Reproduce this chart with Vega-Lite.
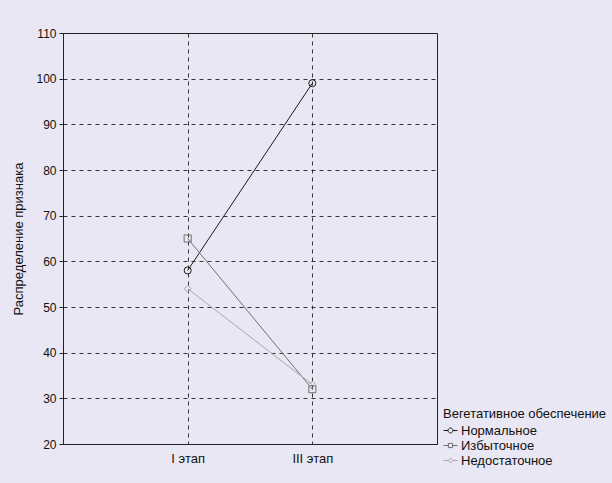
{
  "$schema": "https://vega.github.io/schema/vega-lite/v6.json",
  "width": 374,
  "height": 411,
  "autosize": {"type": "none"},
  "padding": {"left": 63, "top": 33, "right": 175, "bottom": 39},
  "background": "#e9e7f3",
  "config": {
    "font": "Liberation Sans",
    "view": {"stroke": "#222", "strokeWidth": 1},
    "axis": {
      "labelFont": "Liberation Sans",
      "titleFont": "Liberation Sans",
      "labelFontSize": 12,
      "titleFontSize": 13,
      "labelColor": "#111",
      "titleColor": "#111",
      "domainColor": "#222",
      "tickColor": "#222",
      "gridColor": "#222",
      "gridDash": [4, 4],
      "gridOpacity": 0.9,
      "titleFontWeight": "normal"
    },
    "legend": {
      "labelFont": "Liberation Sans",
      "titleFont": "Liberation Sans",
      "labelFontSize": 13,
      "titleFontSize": 13,
      "titleFontWeight": "normal",
      "labelColor": "#111",
      "titleColor": "#111"
    }
  },
  "data": {
    "values": [
      {"stage": "I этап", "group": "Нормальное", "value": 58},
      {"stage": "III этап", "group": "Нормальное", "value": 99},
      {"stage": "I этап", "group": "Избыточное", "value": 65},
      {"stage": "III этап", "group": "Избыточное", "value": 32},
      {"stage": "I этап", "group": "Недостаточное", "value": 54},
      {"stage": "III этап", "group": "Недостаточное", "value": 33}
    ]
  },
  "encoding": {
    "x": {
      "field": "stage",
      "type": "nominal",
      "sort": ["I этап", "III этап"],
      "scale": {"type": "point", "padding": 1},
      "axis": {"title": null, "labelAngle": 0, "grid": true, "ticks": false, "labelPadding": 8, "labelFontSize": 13}
    },
    "y": {
      "field": "value",
      "type": "quantitative",
      "scale": {"domain": [20, 110], "nice": false},
      "axis": {"title": "Распределение признака", "values": [20, 30, 40, 50, 60, 70, 80, 90, 100, 110], "tickSize": 4, "labelPadding": 3, "titlePadding": 10}
    },
    "color": {
      "field": "group",
      "type": "nominal",
      "sort": ["Нормальное", "Избыточное", "Недостаточное"],
      "scale": {"domain": ["Нормальное", "Избыточное", "Недостаточное"], "range": ["#1a1a1a", "#707070", "#a8a8a8"]},
      "legend": {
        "title": "Вегетативное обеспечение",
        "orient": "none",
        "legendX": 380,
        "legendY": 375,
        "symbolSize": 196,
        "symbolStrokeWidth": 1,
        "rowPadding": 0,
        "labelOffset": 3,
        "padding": 0,
        "titlePadding": 2,
        "encode": {
          "symbols": {
            "update": {
              "fill": {"value": "transparent"},
              "shape": {"signal": "datum.value === 'Нормальное' ? 'M-1,0H-0.35M0.35,0H1M-0.35,0A0.35,0.35 0 1,0 0.35,0A0.35,0.35 0 1,0 -0.35,0' : datum.value === 'Избыточное' ? 'M-1,0H-0.3M0.3,0H1M-0.3,-0.3H0.3V0.3H-0.3Z' : 'M-1,0H-0.35M0.35,0H1M-0.35,0L0,-0.35L0.35,0L0,0.35Z'"}
            }
          }
        }
      }
    }
  },
  "layer": [
    {
      "mark": {"type": "line", "strokeWidth": 1},
      "encoding": {"detail": {"field": "group"}}
    },
    {
      "transform": [{"filter": "datum.group === 'Нормальное'"}],
      "mark": {"type": "point", "filled": false, "size": 50, "strokeWidth": 1, "opacity": 1, "shape": "circle"}
    },
    {
      "transform": [{"filter": "datum.group === 'Избыточное'"}],
      "mark": {"type": "point", "filled": false, "size": 50, "strokeWidth": 1, "opacity": 1, "shape": "square"}
    },
    {
      "transform": [{"filter": "datum.group === 'Недостаточное'"}],
      "mark": {"type": "point", "filled": false, "size": 50, "strokeWidth": 1, "opacity": 1, "shape": "diamond"}
    }
  ]
}
